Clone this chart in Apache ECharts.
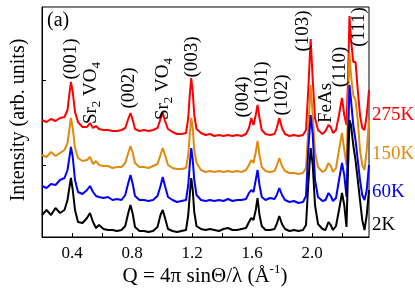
<!DOCTYPE html>
<html>
<head>
<meta charset="utf-8">
<script src="https://cdn.jsdelivr.net/npm/echarts@6/dist/echarts.min.js"></script>
<style>
  html, body { margin: 0; padding: 0; background: #fff; }
  #chart { width: 415px; height: 291px; }
</style>
</head>
<body>
<div id="chart"></div>
<script>
// Q values (1/Å)
const q = [0.20,0.23,0.26,0.29,0.32,0.35,0.37,0.38,0.393,0.405,
  0.42,0.44,0.47,0.50,0.52,0.54,0.56,0.58,0.61,0.64,
  0.67,0.70,0.73,0.755,0.775,0.79,0.805,0.82,0.85,0.88,
  0.91,0.94,0.97,0.99,1.005,1.02,1.04,1.07,1.10,1.13,
  1.16,1.175,1.185,1.195,1.205,1.215,1.23,1.26,1.29,1.32,
  1.35,1.38,1.41,1.44,1.47,1.50,1.53,1.56,1.58,1.595,
  1.61,1.625,1.637,1.65,1.665,1.69,1.72,1.75,1.765,1.782,
  1.80,1.82,1.85,1.88,1.91,1.94,1.96,1.975,1.991,2.005,
  2.02,2.04,2.07,2.09,2.11,2.125,2.14,2.16,2.18,2.20,
  2.215,2.23,2.24,2.25,2.26,2.275,2.29,2.305,2.32,2.335,
  2.35,2.365,2.38];

// Intensities (arb. units, vertically offset)
const i275K = [117,115,118,116,119,120,127,140,155,145,
  125,115,110,110,114,109,111,108,107,107,
  106,106,107,109,118,124,117,108,106,107,
  106,107,109,118,124,116,108,105,103,103,
  104,119,142,159,145,122,108,104,102,103,
  101,102,101,102,101,102,101,103,109,119,
  112,122,132,119,107,103,102,103,109,119,
  109,103,101,102,101,102,107,147,198,157,
  119,107,103,106,112,110,104,107,122,139,
  122,112,157,221,197,175,175,147,122,109,
  107,122,147];
const i150K = [82,80,85,81,84,87,94,105,119,109,
  89,79,76,77,80,73,76,72,71,71,
  69,70,70,74,84,91,84,74,70,70,
  69,71,73,82,89,82,72,69,68,68,
  69,82,102,119,109,87,74,67,65,66,
  65,66,65,66,65,66,65,67,72,77,
  74,85,96,82,70,66,65,66,71,79,
  71,66,64,64,63,64,69,107,152,122,
  85,70,65,67,74,71,65,69,87,104,
  87,72,127,184,162,142,137,117,87,72,
  67,87,117];
const i60K = [51,49,53,52,57,59,67,77,90,80,
  57,45,43,47,51,45,41,40,39,40,
  37,38,37,42,54,62,53,41,37,37,
  36,37,41,51,60,51,40,37,35,36,
  37,52,72,89,77,57,42,37,36,37,
  36,37,36,38,36,37,37,38,44,47,
  45,57,67,52,40,37,39,38,42,49,
  42,37,35,36,34,35,41,87,122,102,
  57,40,36,37,44,41,36,39,57,74,
  62,40,97,152,137,112,97,77,57,42,
  37,47,72];
const i2K = [22,27,22,29,24,27,37,47,59,47,
  27,15,14,19,24,15,9,12,8,7,
  7,6,7,11,24,32,23,10,6,6,
  5,6,10,22,27,19,8,6,5,6,
  7,22,42,59,47,25,11,8,7,8,
  7,6,8,9,7,7,8,9,15,19,
  17,27,39,22,11,7,7,8,13,21,
  13,8,6,7,6,7,12,52,89,72,
  32,13,8,7,15,12,7,11,27,44,
  32,10,67,117,112,92,77,57,37,17,
  7,22,47];

const seriesNames = ['275K', '150K', '60K', '2K'];
const seriesValues = [i275K, i150K, i60K, i2K];
const seriesColors = ['#ff0000', '#e08a10', '#0000ff', '#000000'];

const peakTexts = ['(001)', '{m|Sr}{s|2}{m| VO}{s|4}', '(002)', '{m|Sr}{s|2}{m| VO}{s|4}', '(003)',
  '(004)', '(101)', '(102)', '(103)', 'FeAs', '(110)', '(111)'];
const peakPos = [[71,59],[91,93],[129,88],[163,89],[192,57],[243,97],[262,82],[282,95],[303,31],[326,103],[340,67],[359,27]];
const tempPos = [115, 154, 192, 225];

const FONT = '"Liberation Serif", "Times New Roman", serif';
const chart = echarts.init(document.getElementById('chart'), null, {renderer: 'canvas'});

const richStyle = {
  m: {fontSize: 19, fontFamily: FONT, lineHeight: 24, color: '#000'},
  s: {fontSize: 13, fontFamily: FONT, lineHeight: 13, verticalAlign: 'bottom', color: '#000'},
  sup: {fontSize: 13, fontFamily: FONT, lineHeight: 13, verticalAlign: 'top', color: '#000'}
};

const graphics = [];
peakTexts.forEach((t, k) => {
  graphics.push({
    type: 'text', x: peakPos[k][0], y: peakPos[k][1], rotation: Math.PI / 2, z: 10,
    style: {
      text: t, rich: richStyle, fontSize: 19, fontFamily: FONT, fill: '#000',
      align: 'center', verticalAlign: 'middle'
    }
  });
});
seriesNames.forEach((n, k) => {
  graphics.push({
    type: 'text', x: 372, y: tempPos[k], z: 10,
    style: {text: n, fontSize: 19, fontFamily: FONT, fill: seriesColors[k], align: 'left', verticalAlign: 'middle'}
  });
});
graphics.push({
  type: 'text', x: 47, y: 21, z: 10,
  style: {text: '(a)', fontSize: 20, fontFamily: FONT, fill: '#000', align: 'left', verticalAlign: 'middle'}
});
graphics.push({
  type: 'text', x: 205, y: 276, z: 10,
  style: {
    text: '{m|Q = 4π sinΘ/λ (Å}{sup|-1}{m|)}',
    rich: {
      m: {fontSize: 21, fontFamily: FONT, lineHeight: 26, color: '#000'},
      sup: {fontSize: 13, fontFamily: FONT, lineHeight: 13, verticalAlign: 'top', color: '#000'}
    },
    align: 'center', verticalAlign: 'middle'
  }
});
graphics.push({
  type: 'text', x: 19, y: 120, rotation: Math.PI / 2, z: 10,
  style: {text: 'Intensity (arb. units)', fontSize: 20, fontFamily: FONT, fill: '#000', align: 'center', verticalAlign: 'middle'}
});

chart.setOption({
  animation: false,
  backgroundColor: '#fff',
  grid: {left: 42, right: 46, top: 7, bottom: 54, show: true, borderColor: '#000', borderWidth: 1},
  xAxis: {
    type: 'value', min: 0.2, max: 2.38, interval: 0.2,
    axisLine: {show: true, onZero: false, lineStyle: {color: '#000', width: 1}},
    axisTick: {show: true, inside: true, length: 4, lineStyle: {color: '#000'}},
    splitLine: {show: false},
    axisLabel: {
      fontSize: 17, fontFamily: FONT, color: '#000', margin: 8, showMaxLabel: false,
      formatter: function (v) {
        const k = Math.round(v / 0.2);
        return (k % 2 === 0) ? (k * 0.2).toFixed(1) : '';
      }
    }
  },
  yAxis: {
    type: 'value', min: 0, max: 230,
    axisLine: {show: true, lineStyle: {color: '#000', width: 1}},
    axisTick: {show: true, inside: true, length: 4, customValues: [72, 157], lineStyle: {color: '#000'}},
    axisLabel: {show: false},
    splitLine: {show: false}
  },
  series: seriesNames.map((n, k) => ({
    name: n, type: 'line', showSymbol: false, z: 2 + k,
    data: q.map((x, j) => [x, seriesValues[k][j]]),
    lineStyle: {color: seriesColors[k], width: 2},
    itemStyle: {color: seriesColors[k]}
  })),
  graphic: graphics
});
</script>
</body>
</html>
